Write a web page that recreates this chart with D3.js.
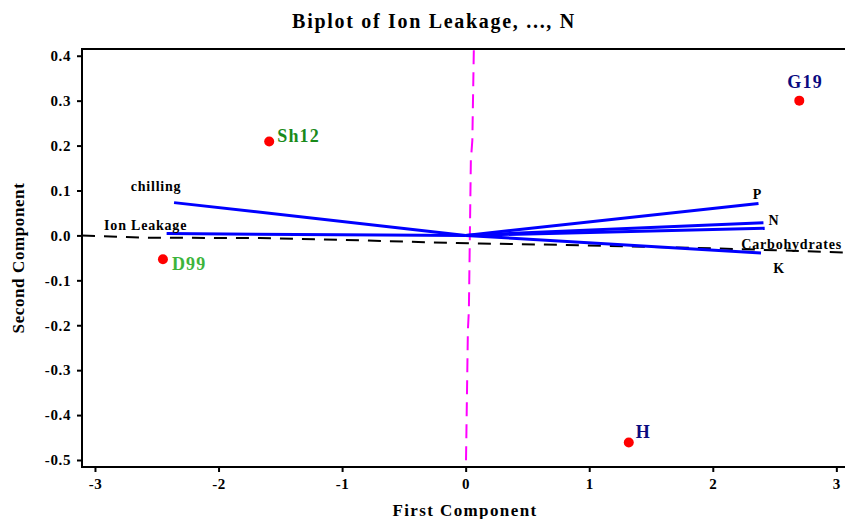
<!DOCTYPE html>
<html>
<head>
<meta charset="utf-8">
<script src="https://cdn.jsdelivr.net/npm/d3@7/dist/d3.min.js"></script>
<style>
	body{ margin:0; padding:0; background:#fff; }
	svg{ display:block; }
	text{ font-family:"Liberation Serif","Times New Roman",serif; font-weight:bold; }
</style>
</head>
<body>
<svg id="svg" width="845" height="519"></svg>
<script>
// observations (scores)
const obsNames = ["G19", "Sh12", "D99", "H"];
const obsX = [2.70, -1.59, -2.45, 1.32];
const obsY = [0.300, 0.209, -0.053, -0.461];

// variable vectors (loadings)
const varNames = ["chilling", "Ion Leakage", "P", "N", "Carbohydrates", "K"];
const varX = [-2.36, -2.42, 2.37, 2.41, 2.42, 2.39];
const varY = [0.073, 0.004, 0.071, 0.028, 0.016, -0.039];

// dashed reference curves
const hLineX = [-3.105, -2.612, -1.665, -1.018, -0.071, 0.115, 0.948, 2.161, 3.07];
const hLineY = [0.000, -0.005, -0.006, -0.0096, -0.017, -0.018, -0.022, -0.030, -0.038];
const vLineX = [0.066, 0.054, 0.042, 0.026, 0.018, 0.002];
const vLineY = [0.412, 0.2115, 0.167, -0.167, -0.2115, -0.516];

const xTicks = [-3, -2, -1, 0, 1, 2, 3];
const yTicks = [0.4, 0.3, 0.2, 0.1, 0.0, -0.1, -0.2, -0.3, -0.4, -0.5];

const svg = d3.select("#svg");
const padL = 82, padR = 845, padT = 49, padB = 467;

const x = d3.scaleLinear().domain([-3.105, 3.07]).range([padL, padR]);
const y = d3.scaleLinear().domain([-0.5156, 0.415]).range([padB, padT]);

// frame
svg.append("rect")
	.attr("x", padL).attr("y", padT)
	.attr("width", padR - padL + 4).attr("height", padB - padT)
	.style("fill", "none").style("stroke", "#000").style("stroke-width", 2);

// axes (plain hyphen for minus, like the original)
const xAxis = svg.append("g").attr("transform", "translate(0," + padB + ")")
	.call(d3.axisBottom(x).tickValues(xTicks).tickSize(5).tickPadding(6)
		.tickFormat(function(d){ return String(d); }));
const yAxis = svg.append("g").attr("transform", "translate(" + padL + ",0)")
	.call(d3.axisLeft(y).tickValues(yTicks).tickSize(5).tickPadding(6)
		.tickFormat(function(d){ return (Math.abs(d) < 1e-9 ? 0 : d).toFixed(1); }));
[xAxis, yAxis].forEach(function(a){
	a.select(".domain").remove();
	a.selectAll(".tick line").style("stroke", "#000").style("stroke-width", 2);
	a.selectAll(".tick text")
		.style("font-family", "'Liberation Serif','Times New Roman',serif")
		.style("font-weight", "bold").style("font-size", "15px")
		.style("letter-spacing", "0.6px").style("fill", "#000");
});

// dashed curves
const line = d3.line().x(function(d){ return x(d[0]); }).y(function(d){ return y(d[1]); });
svg.append("path")
	.attr("d", line(d3.zip(hLineX, hLineY)))
	.style("fill", "none").style("stroke", "#000").style("stroke-width", 2)
	.style("stroke-dasharray", "13,9");
svg.append("path")
	.attr("d", line(d3.zip(vLineX, vLineY)))
	.style("fill", "none").style("stroke", "#ff00ff").style("stroke-width", 2)
	.style("stroke-dasharray", "14,8");

// vectors
svg.append("g").selectAll("line").data(varNames).join("line")
	.attr("x1", x(0)).attr("y1", y(0))
	.attr("x2", function(d, i){ return x(varX[i]); })
	.attr("y2", function(d, i){ return y(varY[i]); })
	.style("stroke", "#0000ff").style("stroke-width", 3);

// vector label offsets (px): anchor, dx, dy
const varLab = {
	"chilling": ["middle", -18, -12],
	"Ion Leakage": ["middle", -21, -4],
	"P": ["middle", -1, -5],
	"N": ["start", 5, 2],
	"Carbohydrates": ["middle", 27, 21],
	"K": ["middle", 18, 20]
};
svg.append("g").selectAll("text").data(varNames).join("text")
	.attr("x", function(d, i){ return x(varX[i]) + varLab[d][1]; })
	.attr("y", function(d, i){ return y(varY[i]) + varLab[d][2]; })
	.attr("text-anchor", function(d){ return varLab[d][0]; })
	.style("font-size", "14px").style("letter-spacing", "0.8px")
	.style("fill", "#000")
	.text(function(d){ return d; });

// observations
svg.append("g").selectAll("circle").data(obsNames).join("circle")
	.attr("cx", function(d, i){ return x(obsX[i]); })
	.attr("cy", function(d, i){ return y(obsY[i]); })
	.attr("r", 5).style("fill", "#ff0000");

const obsLab = {
	"G19": ["#0a0a80", -12, -13],
	"Sh12": ["#1a8a1a", 8, 0],
	"D99": ["#3cb43c", 9, 11],
	"H": ["#0a0a80", 7, -4]
};
svg.append("g").selectAll("text").data(obsNames).join("text")
	.attr("x", function(d, i){ return x(obsX[i]) + obsLab[d][1]; })
	.attr("y", function(d, i){ return y(obsY[i]) + obsLab[d][2]; })
	.style("font-size", "18px").style("letter-spacing", "1.2px")
	.style("fill", function(d){ return obsLab[d][0]; })
	.text(function(d){ return d; });

// titles
svg.append("text").attr("x", 434).attr("y", 28).attr("text-anchor", "middle")
	.style("font-size", "20px").style("letter-spacing", "1.7px")
	.text("Biplot of Ion Leakage, ..., N");
svg.append("text").attr("x", 465).attr("y", 516).attr("text-anchor", "middle")
	.style("font-size", "17px").style("letter-spacing", "1.4px")
	.text("First Component");
svg.append("text").attr("transform", "translate(24,258) rotate(-90)").attr("text-anchor", "middle")
	.style("font-size", "17px").style("letter-spacing", "0.6px")
	.text("Second Component");
</script>
</body>
</html>
